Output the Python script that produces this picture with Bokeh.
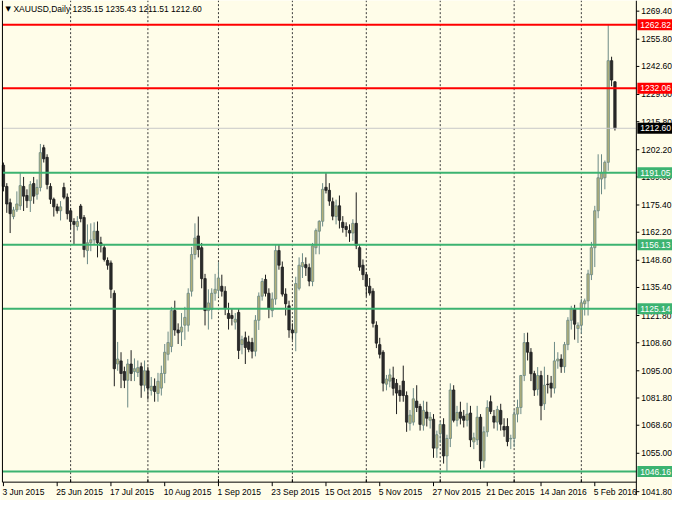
from bokeh.plotting import figure
from bokeh.models import ColumnDataSource, Range1d
from bokeh.core.properties import value
from bokeh.embed import file_html
from bokeh.resources import INLINE

symbol = "XAUUSD,Daily"

opens = [1194.7, 1184.4, 1176.5, 1169.8, 1173.0, 1175.0, 1184.4, 1180.0, 1177.5, 1185.8,
         1180.6, 1183.9, 1203.2, 1198.5, 1184.4, 1178.2, 1174.5, 1172.6, 1183.9, 1179.2,
         1172.6, 1167.4, 1165.0, 1174.9, 1169.3, 1153.3, 1157.1, 1158.5, 1162.7, 1157.1,
         1154.7, 1148.5, 1147.3, 1132.6, 1098.3, 1099.8, 1094.6, 1090.4, 1098.3, 1094.6,
         1094.2, 1097.0, 1088.0, 1095.0, 1085.5, 1087.5, 1084.0, 1086.6, 1093.7, 1103.0,
         1106.8, 1124.2, 1114.8, 1113.8, 1117.1, 1117.1, 1133.6, 1151.4, 1160.4, 1154.7,
         1139.7, 1124.2, 1124.7, 1132.6, 1134.0, 1136.0, 1133.6, 1122.8, 1121.8, 1118.6,
         1123.3, 1107.7, 1111.0, 1109.0, 1108.7, 1104.5, 1119.5, 1131.2, 1139.3, 1132.6,
         1124.2, 1129.8, 1153.3, 1145.3, 1132.2, 1126.5, 1114.8, 1113.4, 1135.0, 1145.5,
         1146.5, 1145.0, 1138.3, 1154.7, 1162.7, 1167.5, 1184.0, 1182.5, 1177.0, 1169.8,
         1175.0, 1167.0, 1165.0, 1163.0, 1161.8, 1166.5, 1154.7, 1146.2, 1141.6, 1136.0,
         1133.6, 1117.1, 1107.7, 1104.0, 1088.5, 1090.0, 1091.5, 1088.9, 1085.5, 1090.0,
         1083.0, 1069.5, 1070.1, 1080.3, 1077.7, 1068.6, 1075.0, 1071.0, 1071.5, 1057.5,
         1064.5, 1068.9, 1053.7, 1062.2, 1085.7, 1071.0, 1075.0, 1073.0, 1071.0, 1074.5,
         1060.5, 1061.5, 1072.5, 1051.3, 1065.4, 1080.0, 1073.0, 1070.1, 1075.8, 1068.0,
         1068.0, 1062.0, 1062.2, 1074.0, 1077.2, 1092.7, 1108.7, 1104.0, 1093.6, 1086.0,
         1092.7, 1079.0, 1088.5, 1089.0, 1086.6, 1099.8, 1100.7, 1097.0, 1107.7, 1119.5,
         1124.9, 1115.5, 1117.1, 1127.5, 1128.9, 1141.6, 1154.7, 1172.6, 1188.0, 1188.6,
         1196.1, 1245.4, 1235.15]

highs = [1196.0, 1186.0, 1178.5, 1174.5, 1182.0, 1191.4, 1189.0, 1183.0, 1187.0, 1189.0,
         1187.8, 1205.0, 1204.6, 1200.0, 1186.0, 1179.0, 1176.0, 1177.3, 1186.2, 1181.0,
         1174.0, 1169.0, 1170.0, 1175.9, 1170.5, 1166.0, 1166.5, 1167.0, 1167.4, 1160.0,
         1156.1, 1150.0, 1148.5, 1134.0, 1109.0, 1104.0, 1097.0, 1100.7, 1105.0, 1101.0,
         1100.0, 1099.0, 1100.0, 1097.0, 1092.0, 1091.3, 1094.0, 1097.5, 1108.0, 1114.0,
         1126.0, 1129.0, 1118.0, 1123.0, 1126.0, 1135.0, 1155.0, 1166.5, 1169.8, 1157.0,
         1142.0, 1134.5, 1135.0, 1142.0, 1147.7, 1141.6, 1136.0, 1128.0, 1125.0, 1123.0,
         1125.0, 1112.0, 1114.0, 1112.0, 1111.0, 1122.0, 1133.0, 1140.0, 1141.6, 1135.0,
         1133.0, 1156.1, 1156.0, 1148.0, 1135.0, 1129.0, 1118.0, 1140.6, 1150.0, 1152.0,
         1150.0, 1147.0, 1157.0, 1164.0, 1168.0, 1186.0, 1190.9, 1186.0, 1179.0, 1178.0,
         1180.0, 1170.0, 1167.0, 1166.0, 1168.5, 1181.5, 1156.0, 1149.0, 1143.0, 1140.0,
         1135.0, 1119.0, 1111.0, 1105.0, 1093.0, 1096.0, 1097.0, 1091.0, 1088.0, 1097.5,
         1085.0, 1076.0, 1086.6, 1088.0, 1079.0, 1080.5, 1080.0, 1075.0, 1074.0, 1066.0,
         1070.5, 1072.0, 1064.0, 1088.9, 1088.0, 1078.0, 1080.0, 1076.0, 1079.5, 1078.0,
         1065.0, 1078.0, 1074.0, 1068.0, 1080.7, 1083.0, 1076.0, 1078.0, 1079.0, 1072.0,
         1072.0, 1064.0, 1076.0, 1081.0, 1093.0, 1113.3, 1113.5, 1106.0, 1095.0, 1096.8,
         1095.0, 1097.0, 1093.0, 1092.5, 1109.0, 1104.0, 1103.0, 1109.0, 1121.0, 1126.5,
         1127.0, 1118.5, 1130.0, 1130.0, 1144.0, 1157.5, 1175.0, 1200.0, 1200.0, 1197.0,
         1262.82, 1247.3, 1235.43]

lows = [1182.0, 1171.6, 1161.8, 1168.5, 1172.0, 1173.0, 1172.5, 1174.0, 1172.0, 1176.0,
        1178.0, 1182.0, 1196.0, 1183.0, 1175.9, 1169.8, 1171.2, 1167.9, 1178.2, 1168.4,
        1163.7, 1156.1, 1163.0, 1167.0, 1150.0, 1146.7, 1153.0, 1156.0, 1150.0, 1152.4,
        1148.0, 1144.0, 1130.2, 1087.5, 1095.0, 1086.6, 1086.6, 1077.2, 1090.0, 1090.0,
        1092.0, 1081.9, 1085.0, 1081.0, 1083.0, 1080.0, 1080.0, 1083.0, 1089.0, 1100.0,
        1104.0, 1112.0, 1108.0, 1107.0, 1110.0, 1114.0, 1131.0, 1149.0, 1150.0, 1135.0,
        1117.0, 1115.0, 1120.0, 1129.0, 1131.0, 1131.0, 1122.0, 1115.0, 1117.0, 1115.0,
        1100.7, 1103.0, 1098.3, 1104.0, 1101.0, 1102.0, 1114.8, 1129.0, 1131.0, 1120.5,
        1121.0, 1127.0, 1144.0, 1131.0, 1121.8, 1111.0, 1110.0, 1104.5, 1134.0, 1140.0,
        1141.0, 1136.0, 1136.0, 1151.5, 1151.5, 1165.0, 1181.0, 1175.0, 1168.0, 1166.0,
        1164.0, 1162.0, 1160.0, 1157.5, 1158.0, 1154.0, 1143.5, 1139.0, 1131.0, 1131.5,
        1116.0, 1106.0, 1101.0, 1085.0, 1085.5, 1087.0, 1083.0, 1074.0, 1080.0, 1080.0,
        1065.4, 1066.0, 1068.5, 1075.0, 1066.0, 1066.0, 1068.0, 1067.0, 1052.8, 1052.8,
        1060.0, 1050.0, 1046.2, 1058.0, 1070.0, 1068.0, 1069.0, 1067.5, 1068.0, 1058.0,
        1057.0, 1059.0, 1047.3, 1048.0, 1063.0, 1074.0, 1067.0, 1066.0, 1066.0, 1063.0,
        1058.4, 1057.0, 1058.0, 1070.0, 1074.0, 1090.0, 1100.0, 1090.0, 1082.8, 1083.0,
        1071.0, 1076.0, 1084.0, 1082.0, 1084.0, 1096.0, 1094.0, 1094.0, 1105.0, 1115.0,
        1110.1, 1108.5, 1113.0, 1121.8, 1121.8, 1139.0, 1145.3, 1169.0, 1180.6, 1183.0,
        1192.0, 1233.0, 1211.51]

closes = [1184.4, 1175.9, 1171.2, 1173.0, 1175.9, 1184.8, 1179.7, 1177.5, 1185.3, 1179.7,
          1183.9, 1200.8, 1197.8, 1185.3, 1178.2, 1174.5, 1172.6, 1174.5, 1179.2, 1171.2,
          1167.4, 1166.0, 1167.4, 1168.8, 1153.8, 1157.1, 1158.5, 1162.7, 1157.1, 1155.7,
          1149.0, 1146.2, 1134.5, 1096.0, 1100.7, 1093.7, 1090.4, 1098.3, 1093.7, 1096.0,
          1096.5, 1088.0, 1095.0, 1086.6, 1087.5, 1085.0, 1089.9, 1093.7, 1104.0, 1108.7,
          1124.2, 1114.8, 1113.4, 1116.2, 1120.9, 1132.6, 1151.4, 1159.4, 1153.8, 1139.7,
          1124.2, 1127.9, 1132.6, 1134.5, 1140.0, 1133.6, 1125.2, 1120.4, 1120.4, 1120.0,
          1104.9, 1110.1, 1106.3, 1105.4, 1104.5, 1119.5, 1131.2, 1138.3, 1132.6, 1125.2,
          1129.8, 1153.3, 1146.2, 1132.2, 1127.5, 1114.8, 1113.4, 1137.3, 1146.2, 1147.5,
          1145.0, 1138.5, 1155.6, 1163.0, 1167.5, 1183.0, 1182.5, 1177.3, 1170.0, 1175.0,
          1168.0, 1164.5, 1163.5, 1161.8, 1166.5, 1155.7, 1145.3, 1141.6, 1136.0, 1132.7,
          1118.0, 1108.4, 1103.0, 1089.0, 1091.0, 1093.0, 1086.5, 1084.2, 1083.0, 1083.0,
          1070.1, 1073.5, 1081.4, 1077.2, 1069.0, 1075.8, 1072.0, 1072.5, 1057.5, 1064.0,
          1069.0, 1053.7, 1062.2, 1085.7, 1071.0, 1074.8, 1072.0, 1071.0, 1074.0, 1061.5,
          1062.5, 1072.5, 1051.3, 1065.4, 1077.2, 1075.3, 1070.1, 1076.2, 1069.1, 1066.3,
          1060.7, 1062.2, 1074.0, 1077.2, 1092.7, 1108.7, 1104.0, 1093.6, 1085.7, 1092.7,
          1078.1, 1088.0, 1088.3, 1086.6, 1099.8, 1100.7, 1097.0, 1107.7, 1119.5, 1124.9,
          1117.6, 1117.1, 1128.0, 1128.9, 1142.0, 1154.7, 1172.6, 1188.6, 1191.0, 1196.1,
          1245.4, 1236.0, 1212.6]

date_labels = ["3 Jun 2015", "25 Jun 2015", "17 Jul 2015", "10 Aug 2015", "1 Sep 2015",
               "23 Sep 2015", "15 Oct 2015", "5 Nov 2015", "27 Nov 2015", "21 Dec 2015",
               "14 Jan 2016", "5 Feb 2016"]
date_label_bars = [0, 16, 32, 48, 64, 80, 96, 112, 128, 144, 160, 176]
grid_bars = [20, 43, 64, 86, 108, 130, 152, 172]

price_ticks = [1269.40, 1255.80, 1242.60, 1229.00, 1215.80, 1202.20, 1189.00, 1175.40,
               1162.20, 1148.60, 1135.40, 1121.80, 1108.60, 1095.00, 1081.80, 1068.60,
               1055.00, 1041.80]
resistance_levels = [1262.82, 1232.06]
support_levels = [1191.05, 1156.13, 1125.14, 1046.16]

# ---- style / layout constants ----
BG = "#FFFDE9"
BULL_FILL = "#B2B079"
BULL_LINE = "#6C8A86"
BEAR_FILL = "#2B2B2B"
BEAR_LINE = "#1E1E1E"
RED = "#FF0000"
GREEN = "#3CB371"
FONT = "Liberation Sans"
FS = "8.5px"
W, H = 672, 500

# whole canvas is the frame; chart area edges in data units
X_MIN, X_MAX = -0.87, 199.13          # canvas horizontal extent (bars)
Y_MIN, Y_MAX = 1032.1, 1274.57         # canvas vertical extent (price)
X_LEFT, X_AXIS = -0.29, 188.37         # chart border / price axis line
Y_BOTTOM = 1041.0                      # date axis line
PX_X = W / (X_MAX - X_MIN)             # pixels per bar
PX_Y = H / (Y_MAX - Y_MIN)             # pixels per price unit
Y_SCALE_TEXT = Y_BOTTOM - 9.5 / PX_Y   # baseline row of the date scale

n = len(closes)
idx = list(range(n))
bull = [c >= o for o, c in zip(opens, closes)]
src = ColumnDataSource(dict(
    i=idx, o=opens, h=highs, l=lows, c=closes,
    top=[max(o, c) for o, c in zip(opens, closes)],
    bottom=[min(o, c) for o, c in zip(opens, closes)],
    fill=[BULL_FILL if b else BEAR_FILL for b in bull],
    line=[BULL_LINE if b else BEAR_LINE for b in bull],
))

p = figure(width=W, height=H, output_backend="svg", toolbar_location=None,
           x_range=Range1d(X_MIN, X_MAX), y_range=Range1d(Y_MIN, Y_MAX),
           x_axis_location=None, y_axis_location=None,
           background_fill_color=BG, border_fill_color=BG,
           min_border=0, outline_line_color=None)
p.grid.visible = False

txt = dict(text_font=value(FONT), text_font_size=value(FS))

# dashed vertical grid
p.segment(x0=grid_bars, x1=grid_bars, y0=[Y_BOTTOM] * len(grid_bars), y1=[Y_MAX] * len(grid_bars),
          line_color="#3A3A3A", line_dash="2 2", line_width=1)

# candles
p.segment(x0="i", y0="l", x1="i", y1="h", source=src, line_color="line", line_width=1)
p.vbar(x="i", top="top", bottom="bottom", width=0.7, source=src,
       fill_color="fill", line_color="line", line_width=0.8)

# horizontal levels (drawn over the bars)
lvl = ColumnDataSource(dict(
    y=resistance_levels + support_levels,
    color=[RED] * len(resistance_levels) + [GREEN] * len(support_levels),
))
p.segment(x0=X_LEFT, x1=X_AXIS, y0=[closes[-1]], y1=[closes[-1]], line_color="#C8C8C8", line_width=1)
p.segment(x0=X_LEFT, x1=X_AXIS, y0="y", y1="y", source=lvl, line_color="color", line_width=2)

# frame lines
p.segment(x0=[X_LEFT], x1=[X_LEFT], y0=[Y_BOTTOM], y1=[Y_MAX], line_color="black", line_width=1)
p.segment(x0=[X_LEFT], x1=[X_AXIS], y0=[Y_BOTTOM], y1=[Y_BOTTOM], line_color="black", line_width=1)
p.segment(x0=[X_AXIS], x1=[X_AXIS], y0=[Y_MAX], y1=[Y_BOTTOM - 13 / PX_Y],
          line_color="black", line_width=1)

# date axis: ticks and left-aligned labels
p.segment(x0=date_label_bars, x1=date_label_bars, y0=[Y_BOTTOM] * len(date_label_bars),
          y1=[Y_BOTTOM - 4 / PX_Y] * len(date_label_bars), line_color="black", line_width=1)
p.segment(x0=grid_bars, x1=grid_bars, y0=[Y_BOTTOM] * len(grid_bars),
          y1=[Y_BOTTOM + 3 / PX_Y] * len(grid_bars), line_color="black", line_width=1)
p.text(x=[b - 1 / PX_X for b in date_label_bars], y=[Y_SCALE_TEXT] * len(date_labels),
       text=date_labels, text_align="left", text_baseline="middle", text_color="black", **txt)

# price axis: ticks and labels (a tick too close to the date axis is shown on the scale row)
tick_rows = [t if t > Y_BOTTOM + 6 / PX_Y else Y_SCALE_TEXT for t in price_ticks]
p.segment(x0=[X_AXIS] * len(price_ticks), x1=[X_AXIS + 3 / PX_X] * len(price_ticks),
          y0=tick_rows, y1=tick_rows, line_color="black", line_width=1)
p.text(x=[X_AXIS + 5 / PX_X] * len(price_ticks), y=tick_rows,
       text=[f"{t:.2f}" for t in price_ticks], text_align="left", text_baseline="middle",
       text_color="black", **txt)

# level tags on the price axis
tag_levels = resistance_levels + support_levels + [closes[-1]]
tag_colors = [RED] * len(resistance_levels) + [GREEN] * len(support_levels) + ["black"]
tags = ColumnDataSource(dict(y=tag_levels, color=tag_colors, text=[f"{v:.2f}" for v in tag_levels]))
tag_x0 = X_AXIS + 1 / PX_X
p.rect(x=(tag_x0 + X_MAX) / 2, y="y", width=X_MAX - tag_x0, height=11, height_units="screen",
       source=tags, fill_color="color", line_color=None)
p.text(x=X_AXIS + 4 / PX_X, y="y", text="text", source=tags, text_align="left",
       text_baseline="middle", text_color="white", **txt)

# header
p.text(x=[X_LEFT + 3 / PX_X], y=[Y_MAX - 8 / PX_Y], text=["\u25BC"], text_font=value("DejaVu Sans"),
       text_font_size=value("7px"), text_align="left", text_baseline="middle", text_color="black")
p.text(x=[X_LEFT + 11 / PX_X], y=[Y_MAX - 8 / PX_Y],
       text=[f"{symbol}  {opens[-1]:.2f} {highs[-1]:.2f} {lows[-1]:.2f} {closes[-1]:.2f}"],
       text_align="left", text_baseline="middle", text_color="black", **txt)

open("out.html", "w").write(file_html(p, INLINE))
